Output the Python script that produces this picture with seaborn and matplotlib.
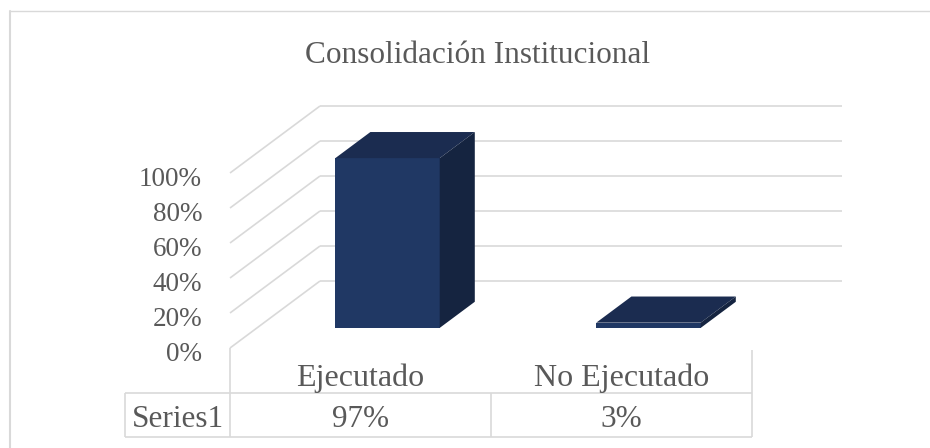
import matplotlib
matplotlib.use("Agg")
import matplotlib.pyplot as plt
import seaborn as sns
from matplotlib.patches import Polygon
from matplotlib.lines import Line2D
from matplotlib.transforms import Affine2D

# ---- data ----
titulo = "Consolidación Institucional"
categorias = ["Ejecutado", "No Ejecutado"]
valores = [0.97, 0.03]
etiquetas_valores = ["97%", "3%"]
serie = "Series1"
ticks = [0.0, 0.2, 0.4, 0.6, 0.8, 1.0]
tick_labels = ["0%", "20%", "40%", "60%", "80%", "100%"]

# ---- style ----
sns.set_theme(style="white")
plt.rcParams["font.family"] = ["Liberation Serif", "DejaVu Serif"]
TXT = "#595959"
GRID = "#D9D9D9"
FRONT = "#203864"
TOP = "#1B2C50"
SIDE = "#152440"

W, H = 930, 448
fig = plt.figure(figsize=(W / 100, H / 100), dpi=100)
fig.patch.set_facecolor("white")

# axes = front plane of the 3D box (x: categories, y: fraction)
PX_X = 261.0   # px per category unit
PX_Y = 175.0   # px per unit of value
ax = fig.add_axes([230 / W, 100 / H, 2 * PX_X / W, PX_Y / H])
ax.set_xlim(-0.5, 1.5)
ax.set_ylim(0, 1)
ax.axis("off")

# depth of the 3D box in data units
DX = 90 / PX_X
DY = 67 / PX_Y
F0, F1 = 0.30, 0.69   # bar depth range (fraction of full depth)

# gridlines: side wall diagonals + back wall
for v in ticks:
    ax.plot([-0.5, -0.5 + DX], [v, v + DY], color=GRID, lw=1.2,
            clip_on=False, zorder=1, solid_capstyle="butt")
    ax.plot([-0.5 + DX, 1.5 + DX], [v + DY, v + DY], color=GRID, lw=1.2,
            clip_on=False, zorder=1, solid_capstyle="butt")

# front faces of bars with seaborn
sns.barplot(x=categorias, y=valores, ax=ax, width=0.4, color=FRONT,
            saturation=1, edgecolor="none", zorder=3)
ax.set_xlim(-0.5, 1.5)
ax.set_ylim(0, 1)
ax.axis("off")

shift = Affine2D().translate(F0 * DX, F0 * DY)
ddx = (F1 - F0) * DX
ddy = (F1 - F0) * DY
for p in ax.patches[:len(valores)]:
    x0 = p.get_x() + F0 * DX
    w = p.get_width()
    h = p.get_height()
    y0 = F0 * DY
    p.set_transform(shift + ax.transData)
    p.set_clip_on(False)
    top = Polygon([(x0, y0 + h), (x0 + w, y0 + h), (x0 + w + ddx, y0 + h + ddy),
                   (x0 + ddx, y0 + h + ddy)], closed=True, facecolor=TOP,
                  edgecolor="none", zorder=3, clip_on=False)
    side = Polygon([(x0 + w, y0), (x0 + w, y0 + h), (x0 + w + ddx, y0 + h + ddy),
                    (x0 + w + ddx, y0 + ddy)], closed=True, facecolor=SIDE,
                   edgecolor="none", zorder=3, clip_on=False)
    ax.add_patch(top)
    ax.add_patch(side)

# value axis labels
for v, lab in zip(ticks, tick_labels):
    ax.text(-0.5 - 28 / PX_X, v - 13 / PX_Y, lab, ha="right", va="baseline",
            fontsize=19.5, color=TXT, clip_on=False)

# data table (category row + series row)
row1 = -45 / PX_Y     # top of series row
row2 = -89 / PX_Y     # bottom of table
left = -0.5 - 105 / PX_X
lk = dict(color=GRID, lw=1.2, clip_on=False, zorder=1, solid_capstyle="butt")
ax.plot([left, 1.5], [row1, row1], **lk)
ax.plot([left, 1.5], [row2, row2], **lk)
ax.plot([left, left], [row1, row2], **lk)
ax.plot([-0.5, -0.5], [0, row2], **lk)
ax.plot([1.5, 1.5], [-2 / PX_Y, row2], **lk)
for i in range(1, len(categorias)):
    ax.plot([i - 0.5, i - 0.5], [row1, row2], **lk)

for i, (c, vl) in enumerate(zip(categorias, etiquetas_valores)):
    ax.text(i, -38 / PX_Y, c, ha="center", va="baseline", fontsize=23,
            color=TXT, clip_on=False)
    ax.text(i, -79 / PX_Y, vl, ha="center", va="baseline", fontsize=22.5,
            color=TXT, clip_on=False)
ax.text((left + -0.5) / 2, -79 / PX_Y, serie, ha="center", va="baseline",
        fontsize=22.5, color=TXT, clip_on=False)

# title
fig.text(478 / W, 1 - 63 / H, titulo, ha="center", va="baseline",
         fontsize=22.5, color=TXT)

# chart frame (partially cropped in reference)
fig.add_artist(Line2D([10 / W, 10 / W], [0, 1 - 11 / H], color=GRID, lw=1.5,
                      transform=fig.transFigure))
fig.add_artist(Line2D([10 / W, 1], [1 - 11 / H, 1 - 11 / H], color=GRID, lw=1.0,
                      transform=fig.transFigure))

fig.savefig("out.png", dpi=100, facecolor="white")
